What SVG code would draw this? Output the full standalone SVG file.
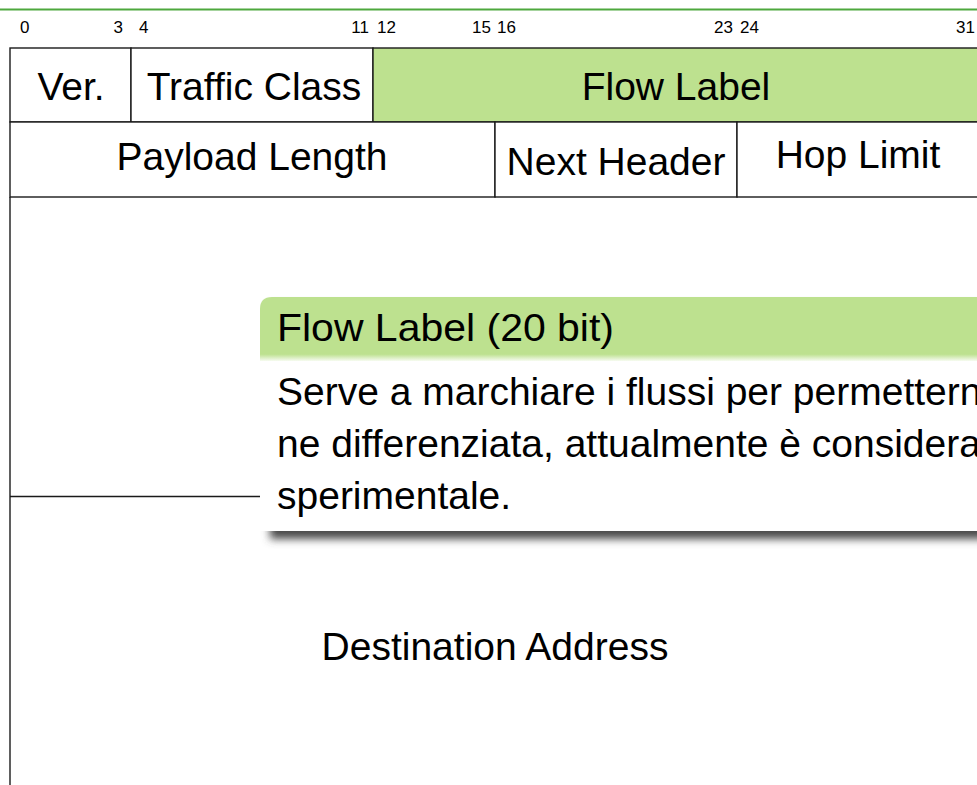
<svg xmlns="http://www.w3.org/2000/svg" width="977" height="785" viewBox="0 0 977 785">
  <defs>
    <style>
      text { font-family: "Liberation Sans", Arial, sans-serif; fill: #000; }
      .bit { font-size: 17px; }
      .fld { font-size: 39px; text-anchor: middle; }
      .blk { font-size: 39px; }
      .cell { fill: #fff; stroke: #1a1a1a; stroke-width: 1.4; }
      .flow { fill: #bde18f; stroke: #1a1a1a; stroke-width: 1.4; }
      .rule { stroke: #1a1a1a; stroke-width: 1.4; fill: none; }
    </style>
    <linearGradient id="hdrFade" x1="0" y1="0" x2="0" y2="1">
      <stop offset="0" stop-color="#bde18f"/>
      <stop offset="0.88" stop-color="#bde18f"/>
      <stop offset="1" stop-color="#ffffff"/>
    </linearGradient>
    <filter id="shadow" x="-10%" y="-10%" width="120%" height="130%">
      <feGaussianBlur stdDeviation="4"/>
    </filter>
  </defs>

  <!-- top rule -->
  <line x1="0" y1="9.5" x2="977" y2="9.5" stroke="#4ea83e" stroke-width="2.2"/>

  <!-- bit positions -->
  <g id="bit-scale">
    <text class="bit" x="20" y="33">0</text>
    <text class="bit" x="123" y="33" text-anchor="end">3</text>
    <text class="bit" x="139" y="33">4</text>
    <text class="bit" x="369" y="33" text-anchor="end">11</text>
    <text class="bit" x="377" y="33">12</text>
    <text class="bit" x="491" y="33" text-anchor="end">15</text>
    <text class="bit" x="497" y="33">16</text>
    <text class="bit" x="733" y="33" text-anchor="end">23</text>
    <text class="bit" x="740" y="33">24</text>
    <text class="bit" x="975" y="33" text-anchor="end">31</text>
  </g>

  <!-- row 1 -->
  <g id="ver">
    <rect class="cell" x="10" y="48" width="121" height="74"/>
    <text class="fld" x="71" y="100">Ver.</text>
  </g>
  <g id="traffic-class">
    <rect class="cell" x="131" y="48" width="242" height="74"/>
    <text class="fld" x="254" y="100">Traffic Class</text>
  </g>
  <g id="flow-label">
    <rect class="flow" x="373" y="48" width="610" height="74"/>
    <text class="fld" x="676" y="100">Flow Label</text>
  </g>

  <!-- row 2 -->
  <g id="payload-length">
    <rect class="cell" x="10" y="122" width="485" height="75"/>
    <text class="fld" x="252" y="170">Payload Length</text>
  </g>
  <g id="next-header">
    <rect class="cell" x="495" y="122" width="242" height="75"/>
    <text class="fld" x="616" y="175">Next Header</text>
  </g>
  <g id="hop-limit">
    <rect class="cell" x="737" y="122" width="246" height="75"/>
    <text class="fld" x="858" y="168">Hop Limit</text>
  </g>

  <!-- address rows -->
  <g id="addresses">
    <line class="rule" x1="10" y1="197" x2="10" y2="785"/>
    <text class="fld" x="495" y="660">Destination Address</text>
  </g>

  <g id="connectors">
    <line class="rule" x1="10" y1="496.5" x2="260" y2="496.5"/>
  </g>

  <!-- explanatory block -->
  <g id="flow-label-note">
    <rect x="270" y="306" width="760" height="233" fill="#4a4a4a" filter="url(#shadow)"/>
    <path d="M260 362 V309 Q260 297 272 297 H1000 V362 Z" fill="url(#hdrFade)"/>
    <rect x="260" y="361" width="740" height="170" fill="#fff"/>
    <text class="blk" x="277" y="341" textLength="337" lengthAdjust="spacingAndGlyphs">Flow Label (20 bit)</text>
    <text class="blk" x="277" y="405">Serve a marchiare i flussi per permetterne</text>
    <text class="blk" x="277" y="457">ne differenziata, attualmente è considerato</text>
    <text class="blk" x="277" y="509">sperimentale.</text>
  </g>
</svg>
